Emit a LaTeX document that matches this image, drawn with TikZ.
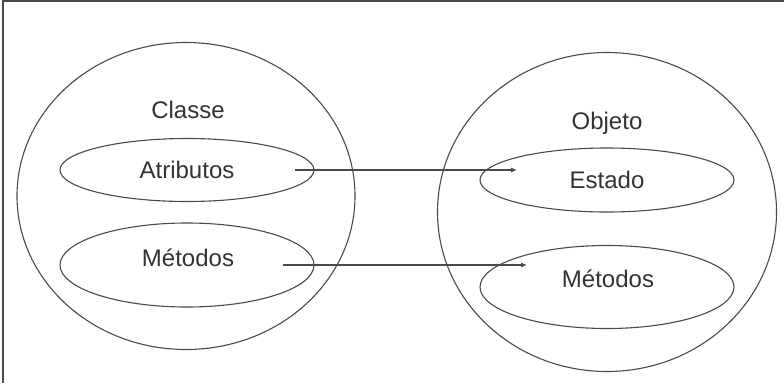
\documentclass[tikz,border=0pt]{standalone}
\usepackage{fontspec}
\setmainfont{Liberation Sans}
\usepackage{tikz}
\usetikzlibrary{arrows.meta,positioning,shapes.geometric}
\definecolor{linegray}{HTML}{4A4A4A}
\definecolor{textgray}{HTML}{333333}
\tikzset{
  sphere/.style={draw=linegray, ellipse, line width=1.1pt, inner sep=0pt},
  part/.style={draw=linegray, ellipse, line width=1.1pt, inner sep=0pt, minimum width=254pt},
  label/.style={text=textgray, inner sep=0pt},
  arrow/.style={-{Latex[length=6pt,width=5pt]}, line width=1.1pt, draw=linegray},
  frame/.style={draw=linegray, line width=1.6pt}
}
\begin{document}
\begin{tikzpicture}[x=1pt, y=-1pt, font=\fontsize{24}{28}\selectfont]
  \useasboundingbox (0,0) rectangle (784,383);
  \draw[frame] (3,383) -- (3,1) -- (784,1);

  % Klasse
  \node[sphere, minimum width=338pt, minimum height=307pt] (classe) at (186,196) {};
  \node[label] (tclasse) at (188,110) {Classe};
  \node[part, minimum height=63pt] (attr) at (187,170) {};
  \node[label] at (attr) {Atributos};
  \node[part, minimum height=84pt] (metc) at (187,265) {};
  \node[label] at (188,258) {Métodos};

  % Objekt
  \node[sphere, minimum width=339pt, minimum height=319pt] (objeto) at (607,212) {};
  \node[label] (tobjeto) at (607,123) {Objeto};
  \node[part, minimum height=64pt] (estado) at (607,180) {};
  \node[label] at (estado) {Estado};
  \node[part, minimum height=83pt] (meto) at (607,287) {};
  \node[label] at (608,279) {Métodos};

  \coordinate (s1) at (295,170);
  \coordinate (e1) at (517,170);
  \coordinate (s2) at (283,265);
  \coordinate (e2) at (527,265);
  \draw[arrow] (s1) -- (e1);
  \draw[arrow] (s2) -- (e2);
\end{tikzpicture}
\end{document}
